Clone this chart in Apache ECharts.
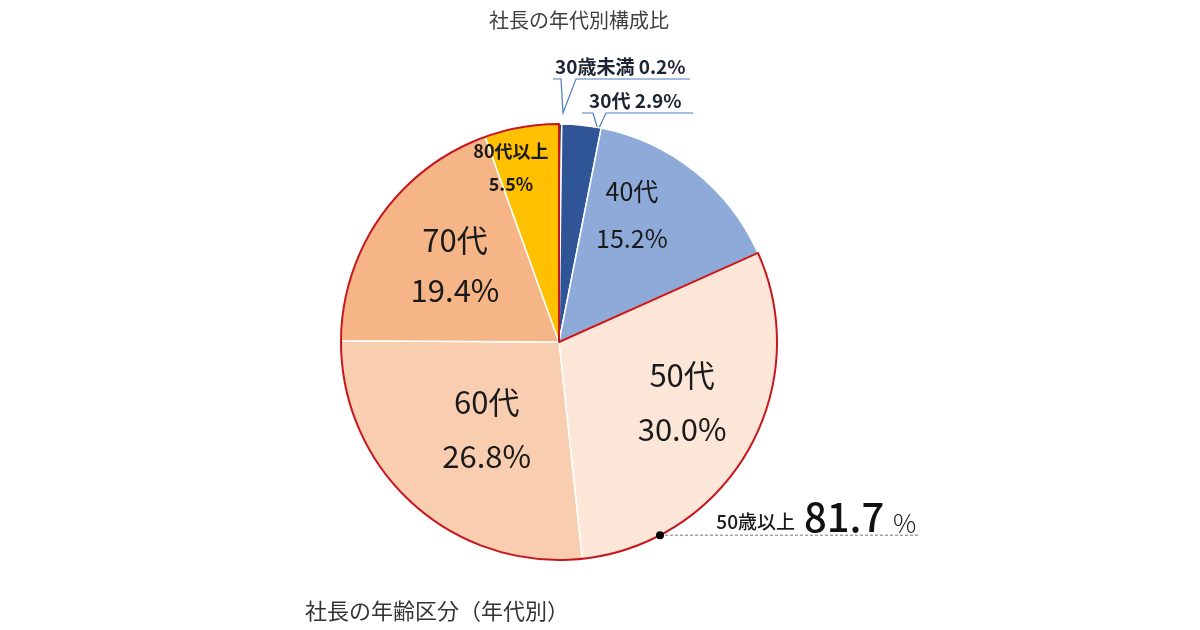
<!DOCTYPE html>
<html><head><meta charset="utf-8">
<script src="https://cdn.jsdelivr.net/npm/echarts@6/dist/echarts.min.js"></script>
<style>html,body{margin:0;padding:0;background:#fff}#c{width:1200px;height:630px}</style>
</head><body><div id="c"></div>
<script>
// ---- data ----
const categories = ['30歳未満', '30代', '40代', '50代', '60代', '70代', '80代以上'];
const values = [0.2, 2.9, 15.2, 30.0, 26.8, 19.4, 5.5];
const seniorGroupLabel = '50歳以上';
const seniorGroupStart = 3; // first category of the 50+ group
const titleText = '社長の年代別構成比';
const captionText = '社長の年齢区分（年代別）';

// ---- styling ----
const FONT = '"Noto Sans CJK JP", "Noto Sans", sans-serif';
const colors = ['#1f3864', '#2f5597', '#8eaad9', '#fce6d8', '#f9cdaf', '#f5b586', '#ffc000'];
const CX = 559, CY = 342, R = 218;
const labelRadiusFrac = [0, 0, 0.64, 0.63, 0.515, 0.59, 0.83];
const labelOffset = [[0,0],[0,0],[-14,-18],[4,-8],[3,4],[1,-2],[-17,4]];
const labelFont = [19, 19, 25, 31, 31, 31, 18];
const labelLH = [20, 20, 47, 54, 54, 50, 33];
const labelWeight = ['bold','bold','normal','normal','normal','normal','bold'];
// callouts for the two thin slices: text anchor + polyline
const calloutText = { 0: [555, 67], 1: [589, 101] };
const calloutLine = {
  0: [[553, 79], [561, 79], [563, 113], [576, 79], [690, 79]],
  1: [[582, 113], [593, 113], [598, 130], [606, 113], [693, 113]]
};
const annotAngleDeg = 152.4;

const total = values.reduce((a, b) => a + b, 0);
const seniorSum = Math.round(values.slice(seniorGroupStart).reduce((a, b) => a + b, 0) * 10) / 10;
const juniorSum = Math.round((total - seniorSum) * 10) / 10;
const cum = []; { let s = 0; values.forEach(v => { cum.push(s); s += v; }); }
const midAngle = i => (cum[i] + values[i] / 2) / total * 2 * Math.PI;

const mainData = categories.map((name, i) => {
  const outside = (i < 2);
  return {
    name, value: values[i],
    itemStyle: { color: colors[i] },
    label: {
      position: outside ? 'outside' : 'inside',
      fontSize: labelFont[i], lineHeight: labelLH[i], fontWeight: labelWeight[i],
      color: outside ? '#1c2333' : '#1a1a1a',
      formatter: p => outside ? (p.name + ' ' + p.value.toFixed(1) + '%') : (p.name + '\n' + p.value.toFixed(1) + '%')
    },
    labelLine: { show: outside, lineStyle: { color: '#4a7ebb', width: 1.2 } }
  };
});

const a = annotAngleDeg * Math.PI / 180;
const dotX = CX + R * Math.sin(a), dotY = CY - R * Math.cos(a);

const chart = echarts.init(document.getElementById('c'));
chart.setOption({
  animation: false,
  backgroundColor: '#fff',
  title: [
    { text: titleText, left: 484, top: 5, textStyle: { fontFamily: FONT, fontSize: 20, fontWeight: 'normal', color: '#404040' } },
    { text: captionText, left: 300, top: 595, textStyle: { fontFamily: FONT, fontSize: 22, fontWeight: 'normal', color: '#333' } }
  ],
  series: [
    {
      type: 'pie', center: [CX, CY], radius: R, startAngle: 90, clockwise: true,
      avoidLabelOverlap: false, silent: true,
      itemStyle: { borderColor: '#fff', borderWidth: 1.5 },
      label: { fontFamily: FONT },
      data: mainData,
      labelLayout: function (p) {
        const i = p.dataIndex;
        if (calloutText[i]) {
          return { x: calloutText[i][0], y: calloutText[i][1], align: 'left', verticalAlign: 'middle', labelLinePoints: calloutLine[i] };
        }
        const th = midAngle(i), r = R * labelRadiusFrac[i];
        return {
          x: CX + r * Math.sin(th) + labelOffset[i][0],
          y: CY - r * Math.cos(th) + labelOffset[i][1],
          align: 'center', verticalAlign: 'middle'
        };
      }
    },
    {
      type: 'pie', center: [CX, CY], radius: R, startAngle: 90, clockwise: true,
      silent: true, z: 5, label: { show: false }, labelLine: { show: false },
      data: [
        { name: 'under50', value: juniorSum, itemStyle: { color: 'rgba(0,0,0,0)', borderWidth: 0 } },
        { name: seniorGroupLabel, value: seniorSum, itemStyle: { color: 'rgba(0,0,0,0)', borderColor: '#c8161d', borderWidth: 2 } }
      ]
    }
  ],
  graphic: [
    { type: 'line', z: 10, shape: { x1: dotX, y1: dotY, x2: 920, y2: dotY }, style: { stroke: '#777', lineWidth: 1, lineDash: [3, 2] } },
    { type: 'circle', z: 11, shape: { cx: dotX, cy: dotY, r: 4 }, style: { fill: '#000' } },
    { type: 'text', z: 11, x: 795, y: dotY - 13, style: { text: seniorGroupLabel, font: '500 19px ' + FONT, fill: '#1a1a1a', align: 'right', verticalAlign: 'middle' } },
    { type: 'text', z: 11, x: 804, y: dotY - 18, style: { text: seniorSum.toFixed(1), font: '500 40px ' + FONT, fill: '#111', align: 'left', verticalAlign: 'middle' } },
    { type: 'text', z: 11, x: 893, y: dotY - 12, style: { text: '%', font: '300 26px ' + FONT, fill: '#222', align: 'left', verticalAlign: 'middle' } }
  ]
});
</script></body></html>
